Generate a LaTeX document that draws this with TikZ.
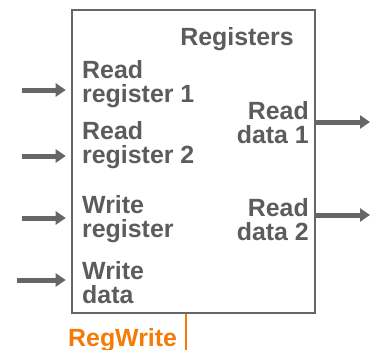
\documentclass[tikz,border=0pt]{standalone}
\usepackage{fontspec}
\setmainfont{Liberation Sans}
\usetikzlibrary{arrows.meta}
\definecolor{regGray}{HTML}{5C5C5C}
\definecolor{lineGray}{HTML}{666666}
\definecolor{ctrlOrange}{HTML}{F47B06}
\tikzset{
  lbl/.style={font=\bfseries\fontsize{25}{24}\selectfont, text=regGray, inner sep=0pt},
  bus/.style={line width=5bp, draw=lineGray, -{Triangle[length=10bp,width=13bp]}},
}
\begin{document}
\begin{tikzpicture}[x=1bp, y=-1bp]
\useasboundingbox (0,0) rectangle (370,350);
\node[draw=lineGray, line width=2.5bp, minimum width=243bp, minimum height=303bp, inner sep=0pt] (regfile) at (193.5,161.5){};
\node[lbl, anchor=base east] (title) at (294,45){Registers};
\node[lbl, anchor=base west, align=left] (rreg1) at (82,102){Read\\register 1};
\node[lbl, anchor=base west, align=left] (rreg2) at (82,163){Read\\register 2};
\node[lbl, anchor=base west, align=left] (wreg) at (82,237){Write\\register};
\node[lbl, anchor=base west, align=left] (wdata) at (82,303){Write\\data};
\node[lbl, anchor=base east, align=right] (rdata1) at (309,143){Read\\data 1};
\node[lbl, anchor=base east, align=right] (rdata2) at (309,240){Read\\data 2};
\node[lbl, anchor=base west, text=ctrlOrange] (regwrite) at (68,346){RegWrite};
\coordinate (in1) at (22,90);
\coordinate (in2) at (22,156);
\coordinate (in3) at (22,218);
\coordinate (in4) at (17,280);
\coordinate (out1) at (370,122);
\coordinate (out2) at (370,215);
\coordinate (ctrl) at (186,350);
\draw[bus, shorten >=5bp](in1) -- (in1 -| regfile.west);
\draw[bus, shorten >=5bp](in2) -- (in2 -| regfile.west);
\draw[bus, shorten >=5bp](in3) -- (in3 -| regfile.west);
\draw[bus, shorten >=5bp](in4) -- (in4 -| regfile.west);
\draw[bus](out1 -| regfile.east) -- (out1);
\draw[bus](out2 -| regfile.east) -- (out2);
\draw[ctrlOrange, line width=2bp](ctrl |- regfile.south) -- (ctrl);
\end{tikzpicture}
\end{document}
